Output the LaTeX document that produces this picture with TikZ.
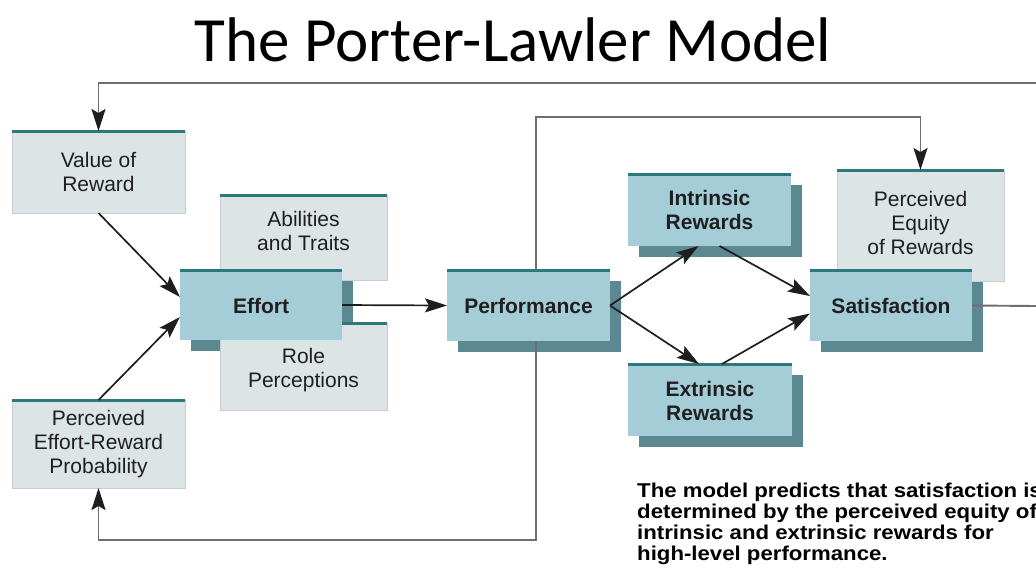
\documentclass[tikz,border=0pt]{standalone}
\usepackage{fontspec}
\setmainfont{Liberation Sans}
\newfontfamily\titlefont{Carlito}
\usetikzlibrary{arrows.meta}
\definecolor{boxgray}{RGB}{221,228,230}
\definecolor{boxedge}{RGB}{200,206,208}
\definecolor{boxblue}{RGB}{164,205,216}
\definecolor{shadowc}{RGB}{92,136,146}
\definecolor{tealline}{RGB}{44,120,124}
\definecolor{loopc}{RGB}{110,110,110}
\definecolor{arrowc}{RGB}{30,30,30}
\pgfdeclarelayer{canvas}
\pgfdeclarelayer{shadows}
\pgfdeclarelayer{back}
\pgfsetlayers{canvas,shadows,back,main}
\tikzset{
  box/.style={rectangle, inner sep=0pt, outer sep=0pt},
  graybox/.style={box, fill=boxgray, draw=boxedge, line width=0.8pt},
  bluebox/.style={box, fill=boxblue},
  topline/.style={draw=tealline, line width=3pt},
  shade/.style={fill=shadowc},
  boxtext/.style={align=center, font=\fontsize{21}{24}\selectfont, text=black!88},
  boldtext/.style={align=center, font=\fontsize{21}{24}\selectfont\bfseries, text=black!88},
  tip/.style={-{Stealth[length=22pt,width=14pt,inset=4pt,color=arrowc]}},
  flow/.style={draw=arrowc, line width=1.7pt, tip},
  loop/.style={draw=loopc, line width=1.9pt},
  looparrow/.style={loop, tip},
}
\begin{document}
\begin{tikzpicture}[x=1pt,y=-1pt]
\useasboundingbox (0,0) rectangle (1036,568);
\begin{pgfonlayer}{canvas}
\fill[white] (0,0) rectangle (1036,568);
\end{pgfonlayer}

% title
\node[font=\titlefont\fontsize{63}{70}\selectfont] (title) at (513,40) {The Porter-Lawler Model};

% pale boxes that sit behind the blue ones
\begin{pgfonlayer}{back}
\node[graybox, minimum width=173, minimum height=82] (vr) at (98.5,172) {};
\node[graybox, minimum width=167, minimum height=85] (ab) at (303.5,237.5) {};
\node[graybox, minimum width=167, minimum height=87] (ro) at (303.5,366.5) {};
\node[graybox, minimum width=173, minimum height=88] (pe) at (98.5,444) {};
\node[graybox, minimum width=167, minimum height=111] (eq) at (920.5,225.5) {};
\foreach \b in {vr,ab,ro,pe,eq}
  \draw[topline] (\b.north west) -- (\b.north east);
\end{pgfonlayer}

% blue boxes
\node[bluebox, minimum width=162, minimum height=70] (eff) at (261,305) {};
\node[bluebox, minimum width=163, minimum height=71] (perf) at (528.5,305.5) {};
\node[bluebox, minimum width=163, minimum height=72] (intr) at (709.5,210) {};
\node[bluebox, minimum width=164, minimum height=72] (extr) at (710,400) {};
\node[bluebox, minimum width=162, minimum height=71] (sat) at (891,305.5) {};
\foreach \b in {eff,perf,intr,extr,sat}
  \draw[topline] (\b.north west) -- (\b.north east);

% drop shadows of the blue boxes
\begin{pgfonlayer}{shadows}
\foreach \b in {eff,perf,intr,extr,sat}
  \fill[shade] ([shift={(10.5,10.5)}]\b.north west) rectangle ([shift={(10.5,10.5)}]\b.south east);
\end{pgfonlayer}

% labels
\node[boxtext] (tvr) at (98.5,172) {Value of\\Reward};
\node[boxtext] (tab) at (303.5,231) {Abilities\\and Traits};
\node[boxtext] (tro) at (303.5,370) {Role\\Perceptions};
\node[boxtext] (tpe) at (98.5,444) {Perceived\\Effort-Reward\\Probability};
\node[boxtext] (teq) at (920.5,223) {Perceived\\Equity\\of Rewards};
\node[boldtext] (teff) at (261,306) {Effort};
\node[boldtext] (tperf) at (528.5,306) {Performance};
\node[boldtext] (tintr) at (709.5,210) {Intrinsic\\Rewards};
\node[boldtext] (textr) at (710,401) {Extrinsic\\Rewards};
\node[boldtext] (tsat) at (891,306) {Satisfaction};

% causal arrows
\draw[flow] (vr.south) -- ([yshift=8pt]eff.west);
\draw[flow] (pe.north) -- ([yshift=-12pt]eff.west);
\draw[flow] (eff.east) -- (perf.west);
\draw[flow] (perf.east) -- ([xshift=-11pt]intr.south);
\draw[flow] (perf.east) -- ([xshift=-11pt]extr.north);
\draw[flow] ([xshift=10pt]intr.south) -- ([yshift=9.5pt]sat.west);
\draw[flow] ([xshift=12pt]extr.north) -- ([yshift=-8pt]sat.west);

% feedback loops
\coordinate (edgeA) at (1036,306);
\coordinate (edgeB) at (1036,83);
\draw[loop] (sat.east) -- (edgeA);
\draw[looparrow] (edgeB) -| (vr.north);
\draw[looparrow] ([xshift=7.5pt]perf.north) |- ([yshift=53pt]eq.north) -- (eq.north);
\draw[looparrow] ([xshift=7.5pt]perf.south) |- ([yshift=-52pt]pe.south) -- (pe.south);

% caption
\node[anchor=base west, inner sep=0pt] (cap) at (637,497) {\scalebox{1.11}[1]{\fontsize{20}{21}\selectfont\bfseries
  \begin{tabular}[t]{@{}l@{}}
  The model predicts that satisfaction is\\
  determined by the perceived equity of\\
  intrinsic and extrinsic rewards for\\
  high-level performance.
  \end{tabular}}};
\end{tikzpicture}
\end{document}
